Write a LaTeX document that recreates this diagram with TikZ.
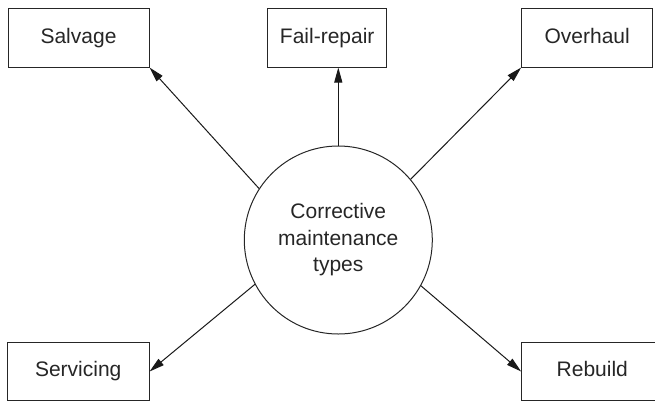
\documentclass[tikz,border=0pt]{standalone}
\usepackage{fontspec}
\setmainfont{Liberation Sans}
\usetikzlibrary{arrows.meta}
\begin{document}
\begin{tikzpicture}[x=1pt,y=-1pt,
  box/.style={draw=black!85,line width=1pt,rectangle,minimum height=58.5pt,inner sep=0pt,text height=15pt,text depth=4.5pt,font=\fontsize{21}{26}\selectfont,text=black!85},
  hub/.style={draw=black!85,line width=1pt,circle,minimum size=188pt,inner sep=0pt,align=center,font=\fontsize{21}{26.5}\selectfont,text=black!85},
  conn/.style={draw=black!90,line width=1pt,-{Triangle[length=15pt,width=8pt]}}]
\useasboundingbox (0,0) rectangle (655,400);
\node[hub] (c) at (338.3,240) {Corrective\\maintenance\\types};
\node[box,minimum width=141pt] (sal) at (78.5,37.75) {Salvage};
\node[box,minimum width=119pt] (fr) at (327.2,37.75) {Fail-repair};
\node[box,minimum width=131pt] (ov) at (587.2,37.75) {Overhaul};
\node[box,minimum width=141.7pt] (ser) at (78.2,371.5) {Servicing};
\node[box,minimum width=141.3pt] (reb) at (592.3,371.5) {Rebuild};
\draw[conn] (c.147) -- (sal.south east);
\draw[conn] (c.north) -- (c.north |- fr.south);
\draw[conn] (c.40) -- (ov.south west);
\draw[conn] (c.208) -- (ser.east);
\draw[conn] (c.331) -- (reb.west);
\end{tikzpicture}
\end{document}
